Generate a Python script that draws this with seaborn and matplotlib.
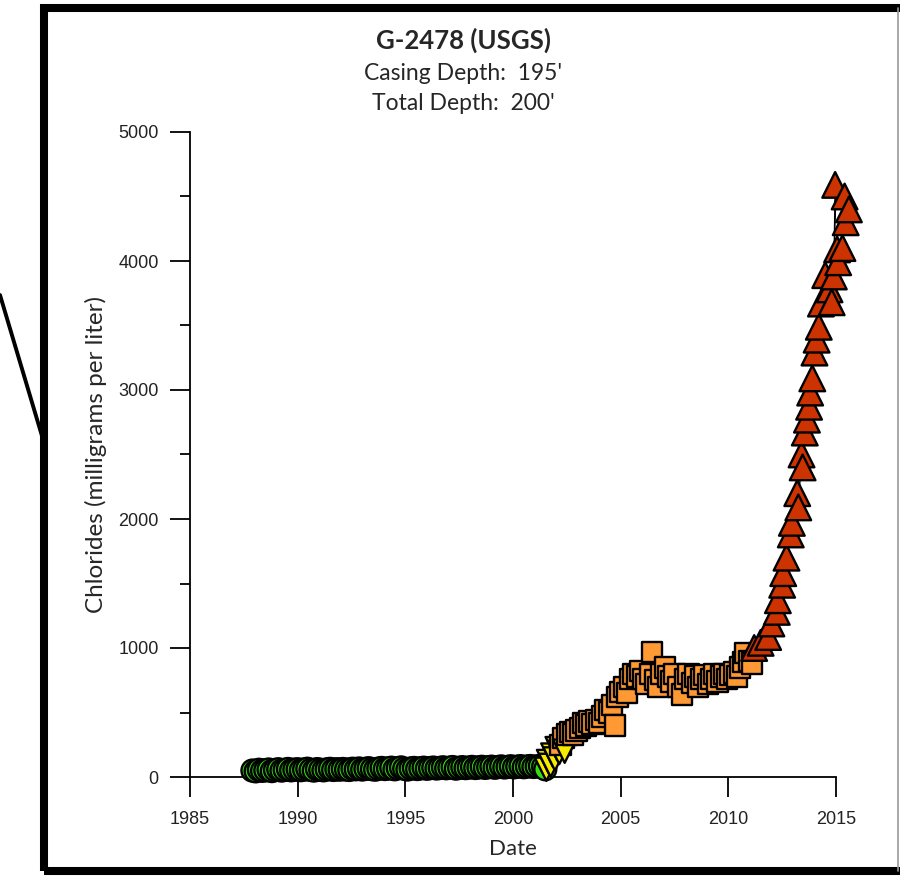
import numpy as np
import pandas as pd
import matplotlib.pyplot as plt
import seaborn as sns
from matplotlib.lines import Line2D
from matplotlib.patches import Rectangle
from matplotlib.ticker import MultipleLocator

# ==========================================
# Data (decimal year, chlorides in mg/L)
# ==========================================
green_year = [1987.90, 1988.05, 1988.20, 1988.35, 1988.50, 1988.65, 1988.80, 1988.95, 1989.10,
              1989.25, 1989.40, 1989.55, 1989.70, 1989.85,
              1990.00, 1990.15, 1990.30, 1990.45, 1990.60, 1990.75, 1990.90, 1991.05, 1991.20,
              1991.35, 1991.50, 1991.65, 1991.80, 1991.95,
              1992.10, 1992.25, 1992.40, 1992.55, 1992.70, 1992.85, 1993.00, 1993.15, 1993.30,
              1993.45, 1993.60, 1993.75, 1993.90, 1994.05,
              1994.20, 1994.35, 1994.50, 1994.65, 1994.80, 1994.95, 1995.10, 1995.25, 1995.40,
              1995.55, 1995.70, 1995.85, 1996.00, 1996.15,
              1996.30, 1996.45, 1996.60, 1996.75, 1996.90, 1997.05, 1997.20, 1997.35, 1997.50,
              1997.65, 1997.80, 1997.95, 1998.10, 1998.25,
              1998.40, 1998.55, 1998.70, 1998.85, 1999.00, 1999.15, 1999.30, 1999.45, 1999.60,
              1999.75, 1999.90, 2000.05, 2000.20, 2000.35,
              2000.50, 2000.65, 2000.80, 2000.95, 2001.10, 2001.25, 2001.40, 2001.50]
green_cl = [50, 44, 56, 48, 52, 58, 46, 54, 60, 50, 55, 62, 52, 57,
            60, 53, 58, 64, 55, 50, 61, 56, 52, 59, 63, 55, 60, 57,
            62, 58, 55, 64, 60, 66, 58, 63, 68, 61, 57, 65, 70, 62,
            66, 72, 60, 68, 74, 64, 58, 66, 70, 62, 67, 72, 64, 69,
            73, 66, 70, 75, 68, 72, 77, 65, 71, 76, 69, 73, 78, 70,
            74, 79, 71, 76, 80, 72, 77, 82, 74, 78, 83, 75, 80, 84,
            76, 81, 85, 78, 82, 86, 80, 60]

yellow_year = [2001.55, 2001.65, 2001.75, 2001.85, 2001.95, 2002.05, 2002.15, 2002.4]
yellow_cl = [60, 120, 90, 170, 140, 220, 190, 200]

orange_year = [2002.2, 2002.35, 2002.5, 2002.65, 2002.8, 2002.95, 2003.1, 2003.25, 2003.4,
               2003.55, 2003.7, 2003.85, 2004.0, 2004.15, 2004.3, 2004.45, 2004.6, 2004.75,
               2004.85, 2005.0, 2005.15, 2005.3, 2005.45, 2005.6, 2005.75, 2005.9, 2006.05,
               2006.2, 2006.35, 2006.45, 2006.6, 2006.75, 2006.9, 2007.05, 2007.2, 2007.35,
               2007.5, 2007.65, 2007.85, 2008.0, 2008.15, 2008.3, 2008.45, 2008.6, 2008.75,
               2008.9, 2009.05, 2009.2, 2009.35, 2009.5, 2009.65, 2009.8, 2009.95, 2010.1,
               2010.25, 2010.4, 2010.55, 2010.7, 2010.8, 2010.95, 2011.1]
orange_cl = [250, 300, 330, 350, 330, 360, 380, 420, 400, 430, 410, 440, 420, 470, 520,
             500, 560, 400, 620, 660, 700, 650, 760, 800, 780, 820, 760, 720, 800, 970,
             750, 700, 800, 850, 780, 740, 800, 700, 640, 760, 800, 730, 780, 700, 760,
             790, 720, 760, 800, 740, 780, 800, 760, 790, 810, 780, 850, 890, 960, 900, 880]

red_year = [2011.2, 2011.5, 2011.85, 2012.0, 2012.25, 2012.3, 2012.5, 2012.55, 2012.7,
            2012.9, 2012.95, 2013.2, 2013.25, 2013.4, 2013.45, 2013.55, 2013.65, 2013.75,
            2013.8, 2013.9, 2014.0, 2014.1, 2014.2, 2014.3, 2014.5, 2014.7, 2014.8,
            2014.9, 2014.96, 2015.05, 2015.1, 2015.3, 2015.4, 2015.45, 2015.6]
red_cl = [1000, 1040, 1085, 1190, 1280, 1370, 1490, 1580, 1700, 1880, 1970, 2200, 2090,
          2500, 2400, 2670, 2770, 2870, 2980, 3090, 3290, 3390, 3490, 3670, 3890, 3780,
          3680, 3880, 4590, 4090, 3990, 4100, 4500, 4300, 4400]

groups = ["green", "yellow", "orange", "red"]
palette = {"green": "#33dd11", "yellow": "#f7ec00", "orange": "#ff9933", "red": "#cc3300"}
markers = {"green": "o", "yellow": "v", "orange": "s", "red": "^"}
sizes = {"green": 250, "yellow": 280, "orange": 215, "red": 340}

df = pd.concat([
    pd.DataFrame({"year": green_year, "cl": green_cl, "group": "green"}),
    pd.DataFrame({"year": yellow_year, "cl": yellow_cl, "group": "yellow"}),
    pd.DataFrame({"year": orange_year, "cl": orange_cl, "group": "orange"}),
    pd.DataFrame({"year": red_year, "cl": red_cl, "group": "red"}),
], ignore_index=True).sort_values("year", kind="stable").reset_index(drop=True)

# ==========================================
# Plot
# ==========================================
sns.set_style("white")
plt.rcParams["font.family"] = ["Liberation Sans", "DejaVu Sans"]
label_font = ["Lato", "DejaVu Sans"]

fig = plt.figure(figsize=(9, 8.88), dpi=100)
ax = fig.add_axes([190 / 900, 111 / 888, 646 / 900, 645 / 888])

sns.lineplot(data=df, x="year", y="cl", color="black", lw=1.0, estimator=None,
             sort=True, ax=ax, zorder=2)
sns.scatterplot(data=df, x="year", y="cl", hue="group", style="group", size="group",
                hue_order=groups, palette=palette, markers=markers, sizes=sizes,
                edgecolor="black", linewidth=1.7, legend=False, ax=ax, zorder=3,
                clip_on=False)

ax.set_xlim(1985, 2015)
ax.set_ylim(0, 5000)
ax.set_xticks(range(1985, 2016, 5))
ax.set_yticks(range(0, 5001, 1000))
ax.yaxis.set_minor_locator(MultipleLocator(500))
ax.tick_params(axis="both", which="major", direction="out", length=14.5, width=1.3,
               color="black", labelsize=13, labelcolor="#222222", left=True,
               bottom=True)
ax.tick_params(axis="x", which="major", pad=10)
ax.tick_params(axis="y", which="major", pad=8)
ax.tick_params(axis="y", which="minor", direction="out", length=7, width=1.3,
               color="black", left=True)
sns.despine(ax=ax)
for side in ["left", "bottom"]:
    ax.spines[side].set_linewidth(1.3)
    ax.spines[side].set_color("black")

ax.set_xlabel("Date", fontsize=16, family=label_font, labelpad=8)
ax.set_ylabel("Chlorides (milligrams per liter)", fontsize=17.5, family=label_font,
              labelpad=8)

# title block
fig.text(463 / 900, 1 - 40 / 888, "G-2478 (USGS)", ha="center", va="center",
         fontsize=18.5, fontweight="bold", family=label_font)
fig.text(463 / 900, 1 - 73 / 888, "Casing Depth:  195'", ha="center", va="center",
         fontsize=16.5, family=label_font)
fig.text(463 / 900, 1 - 104 / 888, "Total Depth:  200'", ha="center", va="center",
         fontsize=16.5, family=label_font)

# heavy frame around the panel plus the leader line on the left
fig.add_artist(Rectangle((44 / 900, 1 - 871 / 888), 870 / 900, 863 / 888,
                         transform=fig.transFigure, fill=False, lw=5.8,
                         edgecolor="black"))
fig.add_artist(Line2D([898 / 900, 898 / 900], [1 - 871 / 888, 1 - 8 / 888],
                      transform=fig.transFigure, lw=1.2, color="#999999"))
fig.add_artist(Line2D([0, 42 / 900], [1 - 295 / 888, 1 - 436 / 888],
                      transform=fig.transFigure, lw=2.8, color="black"))

plt.savefig("out.png", dpi=100)
plt.close()
